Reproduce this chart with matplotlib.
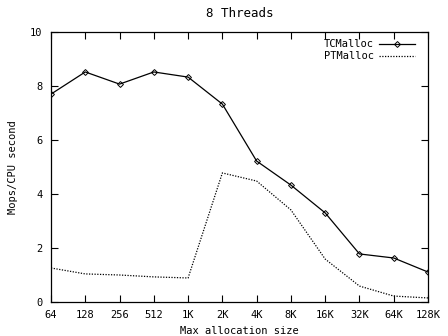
import numpy as np
import matplotlib
matplotlib.use('Agg')
import matplotlib.pyplot as plt

sizes = ['64', '128', '256', '512', '1K', '2K', '4K', '8K', '16K', '32K', '64K', '128K']
tcmalloc = [7.70, 8.52, 8.07, 8.52, 8.33, 7.33, 5.22, 4.33, 3.30, 1.78, 1.63, 1.11]
ptmalloc = [1.26, 1.04, 1.00, 0.93, 0.89, 4.78, 4.48, 3.41, 1.59, 0.59, 0.22, 0.15]

plt.rcParams['font.family'] = 'DejaVu Sans Mono'
plt.rcParams['font.size'] = 7.5

fig = plt.figure(figsize=(4.48, 3.36), dpi=100)
ax = fig.add_axes([51/448, 34/336, 377/448, 270/336])

x = np.arange(len(sizes))
ax.plot(x, tcmalloc, color='black', lw=0.9, marker='D', ms=3.0,
        mfc='none', mew=0.7, label='TCMalloc')
ax.plot(x, ptmalloc, color='black', lw=0.9, ls=(0, (1, 1.2)), label='PTMalloc')

ax.set_xlim(0, len(sizes) - 1)
ax.set_ylim(0, 10)
ax.set_xticks(x)
ax.set_xticklabels(sizes)
ax.set_yticks([0, 2, 4, 6, 8, 10])
ax.tick_params(direction='in', top=True, right=True, length=5, width=0.8, pad=6)
for s in ax.spines.values():
    s.set_linewidth(0.9)

ax.set_title('8 Threads', pad=11)
ax.set_xlabel('Max allocation size', labelpad=4)
ax.set_ylabel('Mops/CPU second', labelpad=9)

leg = ax.legend(loc='upper right', bbox_to_anchor=(0.987, 1.004), frameon=False,
                markerfirst=False, handlelength=3.4, borderaxespad=0.4,
                labelspacing=0.2, handletextpad=0.5)

fig.savefig('out.png', dpi=100)
